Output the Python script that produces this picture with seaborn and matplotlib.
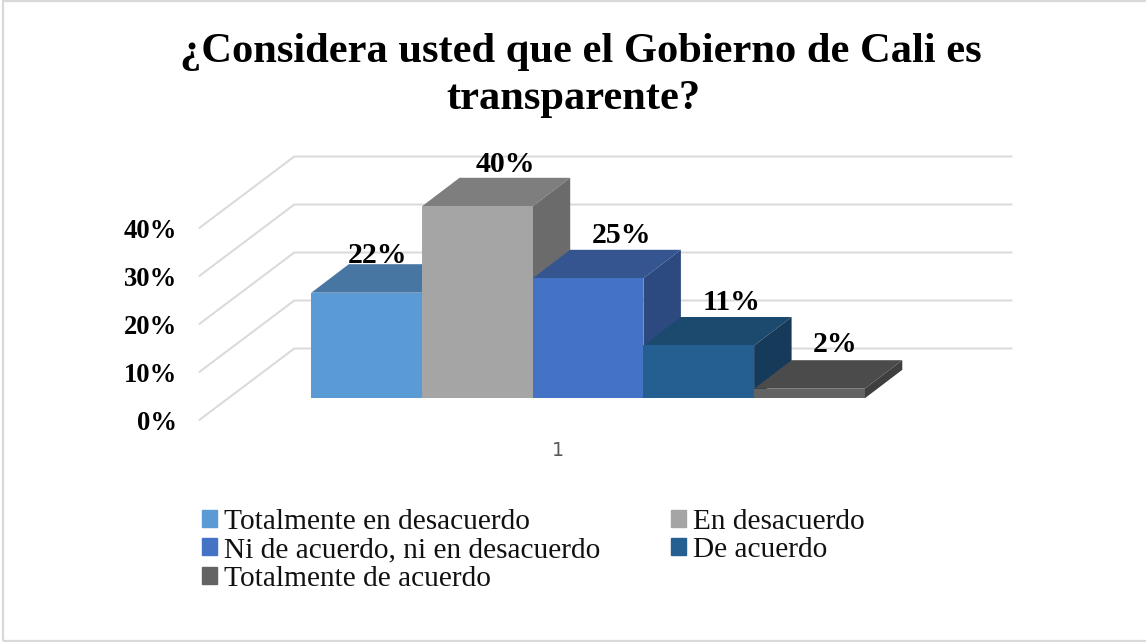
import matplotlib
matplotlib.use('Agg')
import matplotlib.pyplot as plt
from matplotlib.patches import Rectangle
import seaborn as sns

categories = ['Totalmente en desacuerdo', 'En desacuerdo', 'Ni de acuerdo, ni en desacuerdo',
              'De acuerdo', 'Totalmente de acuerdo']
values = [22, 40, 25, 11, 2]
tick_values = [0, 10, 20, 30, 40]
front_colors = ['#5B9BD5', '#A5A5A5', '#4472C4', '#255E91', '#636363']
top_colors = ['#4876A2', '#7E7E7E', '#34558F', '#1C4A6E', '#4B4B4B']
side_colors = ['#3F6C96', '#6B6B6B', '#2D4A80', '#163A5A', '#3F3F3F']
title_lines = ['¿Considera usted que el Gobierno de Cali es', 'transparente?']

W, H = 1146, 642
sns.set_theme(style='white')
plt.rcParams['font.family'] = ['Liberation Serif', 'DejaVu Serif']

# pixel scale of the chart: bar width, height of 1%, where bar 0 and 0% sit
px_x = 110.7
px_y = 4.8
left_px = 311.3
base_px = 398.3

# 3D depth in data units
bar_dx = 37.5 / px_x
bar_dy = 28.5 / px_y
floor_x0 = -0.5 + (199.3 - left_px) / px_x
floor_x1 = -0.5 + (294.3 - left_px) / px_x
floor_x2 = -0.5 + (1011.7 - left_px) / px_x
floor_front = -(420 - base_px) / px_y
floor_back = (base_px - 348.5) / px_y

fig = plt.figure(figsize=(W / 100, H / 100), dpi=100)
ax = fig.add_axes([0, 0, 1, 1])

df_bars = {'cat': categories, 'val': values}
sns.barplot(data=df_bars, x='cat', y='val', hue='cat', palette=front_colors, order=categories,
            hue_order=categories, dodge=False, width=1, saturation=1, legend=False, ax=ax)

ax.set_xlim(-0.5 - left_px / px_x, -0.5 + (W - left_px) / px_x)
ax.set_ylim(-(H - base_px) / px_y, base_px / px_y)
ax.axis('off')

# back wall and side wall gridlines
for t in tick_values:
    ax.plot([floor_x0, floor_x1, floor_x2], [t + floor_front, t + floor_back, t + floor_back],
            color='#D9D9D9', lw=1.4, zorder=1, solid_joinstyle='miter')
    ax.annotate(f'{t}%', (-0.5 + (177.5 - left_px) / px_x, t + floor_front), xytext=(0, -3),
                textcoords='offset pixels', ha='right', va='center',
                fontsize=19.2, fontweight='bold', color='black', zorder=20)

# top and side faces, later bars are painted over earlier ones
for i, (bar, v) in enumerate(zip(ax.patches, values)):
    bar.set_zorder(3 + i + 0.5)
    bar.set_edgecolor('none')
    bar.set_linewidth(0)
    x0, x1 = i - 0.5, i + 0.5
    ax.fill([x0, x1, x1 + bar_dx, x0 + bar_dx], [v, v, v + bar_dy, v + bar_dy],
            color=top_colors[i], lw=0, zorder=3 + i)
    ax.fill([x1, x1 + bar_dx, x1 + bar_dx, x1], [0, bar_dy, v + bar_dy, v],
            color=side_colors[i], lw=0, zorder=3 + i)

# data labels
label_dx = [11, 28, 33, 33, 26]
label_dy = [9, 13, 14, 14, 16]
for i, v in enumerate(values):
    ax.annotate(f'{v}%', (i, v + bar_dy), xytext=(label_dx[i], label_dy[i]), textcoords='offset pixels',
                ha='center', va='center', fontsize=21.5, fontweight='bold', color='black', zorder=20)

ax.text((floor_x0 + floor_x2 - (floor_x1 - floor_x0)) / 2, floor_front - 30 / px_y, '1',
        ha='center', va='center', fontsize=13.8, color='#595959', family='DejaVu Sans')

# title lines sit a little off each other in the original
fig.text(581 / W, 1 - 52 / H, title_lines[0], ha='center', va='center', fontsize=30.6,
         fontweight='bold', color='black')
fig.text(573.5 / W, 1 - 99 / H, title_lines[1], ha='center', va='center', fontsize=30.6,
         fontweight='bold', color='black')

# legend, filled column by column
order = [0, 2, 4, 1, 3]
handles = [Rectangle((0, 0), 1, 1, color=front_colors[i]) for i in order]
labels = [categories[i] for i in order]
fig.legend(handles, labels, ncol=2, loc='upper left', bbox_to_anchor=(178 / W, 1 - 485 / H),
           frameon=False, fontsize=21.2, handlelength=0.52, handleheight=0.52, handletextpad=0.24,
           labelspacing=0.09, columnspacing=2.4, borderpad=0.3, labelcolor='#111111')

# chart frame
fig.add_artist(Rectangle((2.5 / W, 1 / H), (W + 5) / W, (H - 1.5) / H, transform=fig.transFigure,
                         fill=False, edgecolor='#D9D9D9', lw=1.6))

fig.savefig('out.png', dpi=100)
plt.close()
